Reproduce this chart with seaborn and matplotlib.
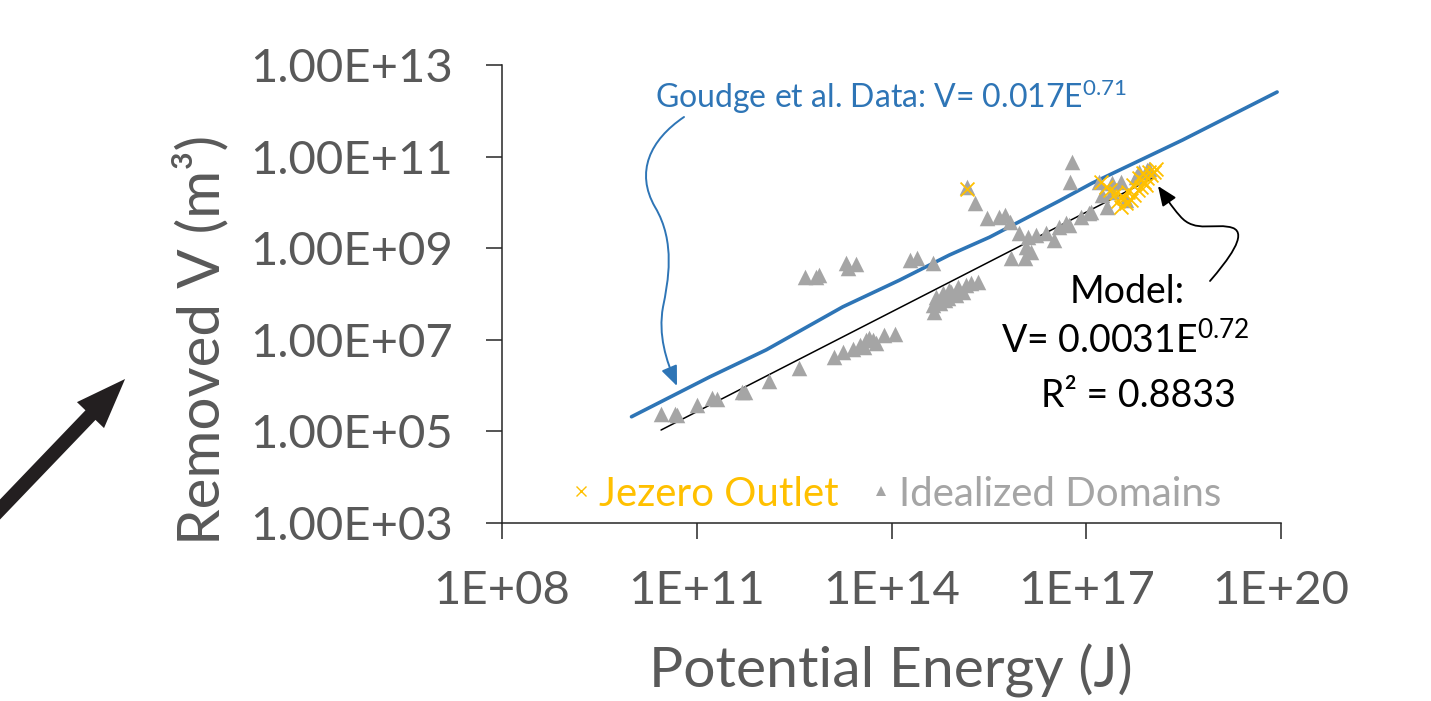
import numpy as np
import pandas as pd
import seaborn as sns
import matplotlib
matplotlib.use("Agg")
import matplotlib.pyplot as plt
from matplotlib.patches import FancyArrowPatch
from matplotlib.path import Path
from matplotlib.lines import Line2D
from matplotlib.ticker import FuncFormatter, NullLocator

# ---------------- data (log10 units) ----------------
domains_logE = [10.45, 10.66, 10.69, 11.01, 11.24, 11.31, 11.69, 11.75, 12.11, 12.58,
                12.66, 12.84, 12.89, 13.30, 13.33, 13.46, 13.12, 13.25, 13.40, 13.51,
                13.61, 13.71, 13.58, 13.66, 13.76, 13.89, 14.05, 14.28, 14.40, 14.64,
                14.64, 14.66, 14.69, 14.74, 14.79, 14.82, 14.87, 14.89, 14.92, 15.00,
                15.02, 15.10, 15.15, 15.23, 15.33, 15.16, 15.28, 15.47, 15.66, 15.75,
                15.82, 15.97, 16.10, 16.23, 16.07, 16.15, 15.84, 16.05, 16.38, 16.51,
                16.58, 16.74, 16.92, 17.07, 16.75, 16.78, 16.69, 17.05, 17.20, 17.40,
                17.53, 17.25, 17.32, 17.40, 17.82, 17.94, 17.61, 17.97, 17.76]
domains_logV = [5.39, 5.38, 5.36, 5.58, 5.74, 5.70, 5.87, 5.85, 6.09, 6.38,
                8.38, 8.38, 8.41, 8.68, 8.56, 8.66, 6.63, 6.74, 6.81, 6.89,
                7.00, 7.00, 6.85, 7.03, 6.92, 7.10, 7.12, 8.74, 8.78, 8.67,
                7.76, 7.61, 7.94, 7.80, 8.02, 7.87, 7.91, 8.09, 8.04, 7.98,
                8.16, 8.05, 8.20, 8.23, 8.27, 10.33, 9.98, 9.65, 9.69, 9.72,
                9.58, 9.33, 9.25, 9.29, 9.03, 8.92, 8.78, 8.78, 9.33, 9.18,
                9.47, 9.51, 9.69, 9.80, 10.45, 10.89, 9.55, 9.77, 10.45, 10.42,
                10.45, 10.16, 9.91, 10.23, 10.67, 10.71, 10.05, 10.74, 10.56]

jezero_logE = [15.16, 17.22, 17.30, 17.37, 17.46, 17.49, 17.53, 17.58, 17.61, 17.64, 17.69,
               17.74, 17.79, 17.82, 17.84, 17.87, 17.89, 17.92, 17.94, 17.99, 18.05, 18.07,
               17.55, 17.72, 17.85, 17.97]
jezero_logV = [10.29, 10.45, 10.34, 10.27, 10.20, 10.02, 9.91, 10.09, 9.98, 10.23, 10.05,
               10.16, 10.27, 10.53, 10.34, 10.64, 10.45, 10.38, 10.53, 10.60, 10.67, 10.74,
               10.14, 10.38, 10.48, 10.66]

goudge_logE = [9.995, 11.20, 12.07, 13.25, 14.12, 14.89, 15.51, 16.58, 17.09, 18.48, 19.94]
goudge_logV = [5.32, 6.19, 6.78, 7.72, 8.30, 8.85, 9.24, 10.03, 10.42, 11.36, 12.41]

model_logE = [10.45, 18.05]
model_logV = [5.03, 10.55]

x_ticks = [1e8, 1e11, 1e14, 1e17, 1e20]
y_ticks = [1e3, 1e5, 1e7, 1e9, 1e11, 1e13]

domains = pd.DataFrame({"E": np.power(10.0, domains_logE), "V": np.power(10.0, domains_logV)})
jezero = pd.DataFrame({"E": np.power(10.0, jezero_logE), "V": np.power(10.0, jezero_logV)})
goudge = pd.DataFrame({"E": np.power(10.0, goudge_logE), "V": np.power(10.0, goudge_logV)})
model = pd.DataFrame({"E": np.power(10.0, model_logE), "V": np.power(10.0, model_logV)})

# ---------------- style ----------------
sns.set_theme(style="white")
plt.rcParams["font.family"] = ["Lato", "DejaVu Sans"]
plt.rcParams["mathtext.fontset"] = "custom"
plt.rcParams["mathtext.rm"] = "Lato"
plt.rcParams["mathtext.it"] = "Lato"
plt.rcParams["mathtext.default"] = "regular"

GRAY = "#A5A5A5"
YELLOW = "#FFC000"
BLUE = "#2E75B6"
TXT = "#595959"
W, H = 1431, 701

fig = plt.figure(figsize=(W / 100, H / 100), dpi=100)
ax = fig.add_axes([502 / W, 1 - 523 / H, 779 / W, 458 / H])


def px(x, y):
    return (x / W, 1 - y / H)


sns.lineplot(data=goudge, x="E", y="V", ax=ax, color=BLUE, linewidth=2.6,
             sort=False, estimator=None)
sns.lineplot(data=model, x="E", y="V", ax=ax, color="black", linewidth=1.1,
             sort=False, estimator=None)
sns.scatterplot(data=domains, x="E", y="V", ax=ax, marker="^", s=125, color=GRAY,
                linewidth=0, legend=False, zorder=3)
sns.scatterplot(data=jezero, x="E", y="V", ax=ax, marker="x", s=100, color=YELLOW,
                linewidth=1.3, legend=False, zorder=4)

ax.set_xscale("log")
ax.set_yscale("log")
ax.set_xlim(1e8, 1e20)
ax.set_ylim(1e3, 1e13)
ax.set_xticks(x_ticks)
ax.set_yticks(y_ticks)
ax.xaxis.set_minor_locator(NullLocator())
ax.yaxis.set_minor_locator(NullLocator())
ax.xaxis.set_major_formatter(FuncFormatter(lambda v, p: f"{v:.0E}"))
ax.yaxis.set_major_formatter(FuncFormatter(lambda v, p: f"{v:.2E}"))
ax.tick_params(axis="both", which="major", direction="out", length=11.5, width=1.1,
               color="#262626", labelsize=34, labelcolor=TXT, pad=24,
               bottom=True, left=True, top=False, right=False)
ax.tick_params(axis="x", pad=22)
for s in ["top", "right"]:
    ax.spines[s].set_visible(False)
for s in ["left", "bottom"]:
    ax.spines[s].set_color("#262626")
    ax.spines[s].set_linewidth(1.1)
ax.set_xlabel("")
ax.set_ylabel("")

fig.text(*px(891, 688), "Potential Energy (J)", fontsize=41, color=TXT,
         ha="center", va="baseline")
fig.text(*px(201, 340), "Removed V (m³)", fontsize=42, color=TXT,
         ha="center", va="center", rotation=90)

# legend
hj = Line2D([], [], marker="x", linestyle="none", color=YELLOW, markersize=7, mew=1.0)
hd = Line2D([], [], marker="^", linestyle="none", color=GRAY, markersize=7, mew=0)
leg = ax.legend([hj, hd], ["Jezero Outlet", "Idealized Domains"], ncol=2, frameon=False,
                fontsize=29, loc="center left", bbox_to_anchor=((571 - 502) / 779, (523 - 494) / 458),
                handlelength=0.5, handletextpad=0.2, columnspacing=0.8,
                borderpad=0, borderaxespad=0)
leg.get_texts()[0].set_color(YELLOW)
leg.get_texts()[1].set_color(GRAY)

# annotations
fig.text(*px(655, 108), "Goudge et al. Data: V= 0.017E$^{0.71}$", fontsize=23,
         color=BLUE, ha="left", va="baseline")
fig.text(*px(1127, 303), "Model:", fontsize=27, color="black", ha="center", va="baseline")
fig.text(*px(1125, 353), "V= 0.0031E$^{0.72}$", fontsize=27, color="black",
         ha="center", va="baseline")
fig.text(*px(1138, 407), "R² = 0.8833", fontsize=27, color="black",
         ha="center", va="baseline")

C = Path.CURVE4
codes = [Path.MOVETO, C, C, C, C, C, C, C, C, C]
blue_verts = [px(684, 117), px(650, 140), px(635, 172), px(655, 207),
              px(676, 242), px(668, 282), px(663, 307),
              px(658, 335), px(666, 360), px(677, 386)]
fig.patches.append(FancyArrowPatch(path=Path(blue_verts, codes), transform=fig.transFigure,
                                   arrowstyle="-|>,head_length=12,head_width=5",
                                   mutation_scale=1, color=BLUE, linewidth=1.4))

black_verts = [px(1210, 281), px(1228, 260), px(1248, 234), px(1233, 228),
               px(1216, 222), px(1195, 234), px(1180, 216),
               px(1171, 206), px(1165, 196), px(1158, 186)]
fig.patches.append(FancyArrowPatch(path=Path(black_verts, codes), transform=fig.transFigure,
                                   arrowstyle="-|>,head_length=12,head_width=5",
                                   mutation_scale=1, color="black", linewidth=1.3))

fig.patches.append(FancyArrowPatch(px(-12, 522), px(127, 377), transform=fig.transFigure,
                                   arrowstyle="simple,head_length=36,head_width=27,tail_width=10",
                                   mutation_scale=1, color="#231F20", linewidth=0))

fig.savefig("out.png", dpi=100, facecolor="white")
